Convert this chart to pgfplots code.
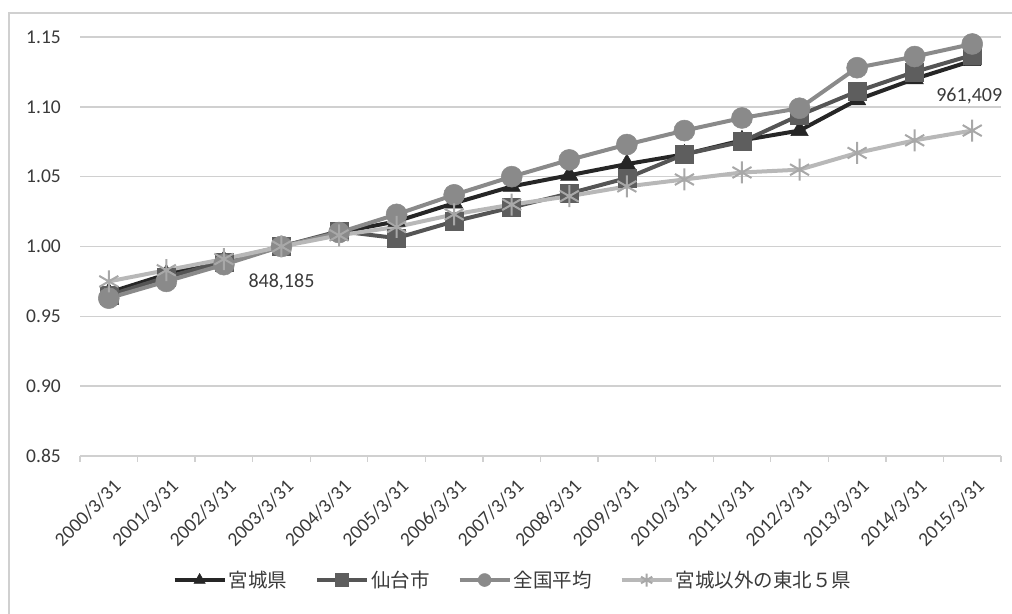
\documentclass[border=0pt]{standalone}
\usepackage{fontspec}
\setmainfont{Carlito}
\newfontfamily\jp{Noto Sans CJK JP}
\usepackage{pgfplots}
\pgfplotsset{compat=1.18}
\definecolor{cA}{HTML}{262626}
\definecolor{cB}{HTML}{555555}
\definecolor{cBf}{HTML}{5E5E5E}
\definecolor{cC}{HTML}{8A8A8A}
\definecolor{cD}{HTML}{B8B8B8}
\definecolor{cDm}{HTML}{A8A8A8}
\definecolor{gridc}{HTML}{D0D0D0}
\definecolor{txt}{HTML}{3A3A3A}
\begin{document}
\begin{tikzpicture}[x=1bp,y=1bp]
\useasboundingbox (0,0) rectangle (1012,614);
\draw[color=gridc, line width=1.6bp] (9,0) -- (9,601) -- (1012,601);
\begin{axis}[
  at={(80bp,158bp)}, anchor=south west,
  width=921bp, height=419bp, scale only axis,
  xmin=-0.5, xmax=15.5, ymin=0.85, ymax=1.15,
  axis x line*=bottom, axis y line*=left,
  axis line style={-, color=gridc, line width=1.6bp},
  y axis line style={draw=none},
  ytick={0.85,0.90,...,1.151},
  yticklabel style={/pgf/number format/.cd, fixed, fixed zerofill, precision=2, /tikz/.cd},
  /pgf/number format/assume math mode=true,
  ymajorgrids, grid style={color=gridc, line width=1.6bp},
  xtick={0,...,15},
  xticklabels={2000/3/31,2001/3/31,2002/3/31,2003/3/31,2004/3/31,2005/3/31,2006/3/31,2007/3/31,2008/3/31,2009/3/31,2010/3/31,2011/3/31,2012/3/31,2013/3/31,2014/3/31,2015/3/31},
  minor xtick={-0.5,0.5,...,15.6},
  major tick length=0bp, minor tick length=6bp,
  tick align=outside,
  minor tick style={color=gridc, line width=1.3bp},
  ytick style={draw=none},
  tick label style={font=\fontsize{19.5bp}{22bp}\selectfont, text=txt},
  yticklabel style={anchor=east, inner sep=0pt, xshift=-19bp},
  xticklabel style={rotate=45, anchor=north east, inner sep=0pt, yshift=-18bp, xshift=-13bp},
  clip=false,
  legend columns=4,
  legend style={at={(0.47,-0.296)}, anchor=center, draw=none, fill=none,
    font=\jp\fontsize{19.5bp}{22bp}\selectfont, text=txt,
    nodes={inner sep=2bp},
    /tikz/every even column/.append style={column sep=26bp}},
  legend image code/.code={\draw[mark repeat=2, mark phase=2, mark size=6.5bp] plot coordinates {(0bp,0bp) (25bp,0bp) (50bp,0bp)};},
]
\addplot[color=cA, line width=4bp, mark=triangle*, mark size=10bp, mark options={fill=cA, draw=cA, line width=0.5bp}]
  coordinates {(0,0.967)(1,0.980)(2,0.990)(3,1.000)(4,1.010)(5,1.018)(6,1.031)(7,1.043)(8,1.051)(9,1.059)(10,1.066)(11,1.076)(12,1.083)(13,1.105)(14,1.120)(15,1.133)};
\addlegendentry{宮城県}
\addplot[color=cB, line width=4bp, mark=square*, mark size=9bp, mark options={fill=cBf, draw=cBf, line width=0.5bp}]
  coordinates {(0,0.965)(1,0.978)(2,0.989)(3,1.000)(4,1.011)(5,1.006)(6,1.018)(7,1.028)(8,1.038)(9,1.049)(10,1.066)(11,1.075)(12,1.094)(13,1.111)(14,1.125)(15,1.137)};
\addlegendentry{仙台市}
\addplot[color=cC, line width=4bp, mark=*, mark size=10.5bp, mark options={fill=cC, draw=cC, line width=0.5bp}]
  coordinates {(0,0.963)(1,0.975)(2,0.987)(3,1.000)(4,1.010)(5,1.023)(6,1.037)(7,1.050)(8,1.062)(9,1.073)(10,1.083)(11,1.092)(12,1.099)(13,1.128)(14,1.136)(15,1.145)};
\addlegendentry{全国平均}
\addplot[color=cD, line width=4bp, mark=asterisk, mark size=11bp, mark options={draw=cDm, line width=2bp}]
  coordinates {(0,0.975)(1,0.983)(2,0.991)(3,1.000)(4,1.008)(5,1.014)(6,1.023)(7,1.030)(8,1.036)(9,1.043)(10,1.048)(11,1.053)(12,1.055)(13,1.067)(14,1.076)(15,1.083)};
\addlegendentry{宮城以外の東北５県}
\node[font=\fontsize{20bp}{24bp}\selectfont, text=txt, anchor=center] at (axis cs:3,1.0) [yshift=-35bp] {848,185};
\node[font=\fontsize{20bp}{24bp}\selectfont, text=txt, anchor=center] at (axis cs:15,1.131) [yshift=-33bp, xshift=-3bp] {961,409};
\end{axis}
\end{tikzpicture}
\end{document}
